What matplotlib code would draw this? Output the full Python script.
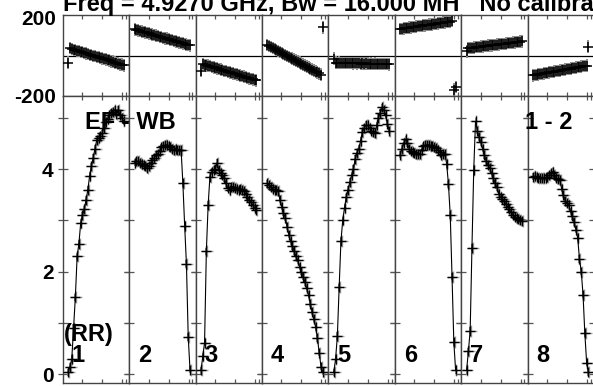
import matplotlib
matplotlib.use("Agg")
import matplotlib.pyplot as plt
from matplotlib.ticker import FixedLocator, FixedFormatter, NullFormatter

# ---------------- data ----------------
CHANNELS = list(range(1, 33))
IF_LABELS = ["1", "2", "3", "4", "5", "6", "7", "8"]

AMP_IF1 = [0.04, 0.15, 0.30, 0.90, 1.50, 2.30, 2.55, 2.95, 3.10, 3.22, 3.40, 3.60, 3.87, 4.05, 4.22, 4.40,
           4.57, 4.60, 4.65, 4.70, 4.80, 4.92, 4.98, 5.05, 5.10, 5.12, 5.15, 5.08, 5.15, 5.06, 5.00, 4.93]
AMP_IF2 = [4.12, 4.15, 4.15, 4.12, 4.10, 4.08, 4.05, 4.03, 4.05, 4.12, 4.18, 4.22, 4.27, 4.30, 4.36, 4.42,
           4.44, 4.46, 4.47, 4.45, 4.42, 4.39, 4.38, 4.40, 4.37, 4.38, 4.38, 3.73, 2.90, 2.15, 0.73, 0.09]
AMP_IF3 = [0.08, 0.35, 0.62, 2.40, 3.30, 3.85, 3.95, 3.98, 4.00, 4.12, 3.98, 3.92, 3.88, 3.82, 3.72, 3.63,
           3.60, 3.65, 3.66, 3.64, 3.62, 3.60, 3.62, 3.60, 3.58, 3.52, 3.45, 3.40, 3.35, 3.30, 3.25, 3.20]
AMP_IF4 = [3.72, 3.68, 3.65, 3.62, 3.60, 3.60, 3.58, 3.40, 3.27, 3.15, 3.05, 2.88, 2.72, 2.60, 2.50, 2.40,
           2.30, 2.22, 2.10, 2.00, 1.90, 1.80, 1.68, 1.55, 1.38, 1.22, 1.08, 0.92, 0.70, 0.42, 0.15, 0.05]
AMP_IF5 = [0.04, 0.30, 0.75, 1.70, 2.60, 3.00, 3.25, 3.45, 3.60, 3.75, 3.88, 4.00, 4.20, 4.32, 4.40, 4.55,
           4.72, 4.80, 4.86, 4.85, 4.80, 4.75, 4.72, 4.70, 4.85, 5.00, 5.10, 5.20, 5.15, 5.05, 4.88, 4.75]
AMP_IF6 = [4.28, 4.40, 4.50, 4.58, 4.50, 4.40, 4.36, 4.34, 4.32, 4.30, 4.30, 4.30, 4.38, 4.44, 4.46, 4.47,
           4.47, 4.45, 4.44, 4.42, 4.41, 4.38, 4.33, 4.28, 4.30, 4.30, 4.10, 3.70, 3.10, 1.90, 0.63, 0.08]
AMP_IF7 = [0.08, 0.45, 0.85, 2.47, 3.99, 4.93, 4.75, 4.62, 4.52, 4.40, 4.27, 4.15, 4.08, 4.02, 3.92, 3.82,
           3.72, 3.65, 3.52, 3.46, 3.42, 3.38, 3.32, 3.27, 3.22, 3.16, 3.11, 3.07, 3.04, 3.02, 3.00, 2.98]
AMP_IF8 = [3.85, 3.86, 3.85, 3.83, 3.82, 3.82, 3.82, 3.83, 3.85, 3.88, 3.92, 3.95, 3.88, 3.82, 3.80, 3.79,
           3.62, 3.50, 3.38, 3.33, 3.30, 3.18, 3.08, 2.97, 2.82, 2.66, 2.25, 2.00, 1.55, 0.80, 0.23, 0.04]

PHS_IF1 = [-33, 41, 38, 33, 32, 27, 26, 22, 21, 16, 14, 12, 7, 6, 2, 0,
           -4, -5, -10, -11, -15, -17, -21, -22, -27, -28, -33, -34, -38, -42, -43, -47]
PHS_IF2 = [138, 135, 133, 130, 127, 125, 122, 119, 117, 114, 111, 109, 106, 103, 100, 98,
           95, 92, 90, 87, 84, 82, 79, 76, 74, 71, 68, 66, 63, 60, 58, 55]
PHS_IF3 = [-74, -41, -44, -47, -49, -52, -55, -58, -61, -63, -66, -69, -72, -75, -77, -80,
           -83, -86, -89, -91, -94, -97, -100, -103, -105, -108, -111, -114, -117, -119, -122, -125]
PHS_IF4 = [58, 53, 48, 43, 38, 32, 27, 22, 17, 12, 7, 2, -3, -8, -13, -18,
           -23, -28, -33, -38, -43, -48, -54, -59, -64, -69, -74, -79, -84, -89, -95, 148]
PHS_IF5 = [-12, -33, -34, -33, -35, -34, -35, -36, -35, -36, -35, -37, -36, -37, -36, -38,
           -37, -38, -37, -38, -39, -38, -39, -38, -40, -39, -40, -39, -41, -40, -41, -42]
PHS_IF6 = [140, 141, 143, 144, 145, 147, 148, 150, 151, 152, 154, 155, 156, 158, 159, 160,
           162, 163, 164, 166, 167, 169, 170, 171, 173, 174, 175, 177, 178, 180, -172, -158]
PHS_IF7 = [25, 41, 42, 43, 44, 46, 47, 48, 49, 50, 51, 53, 54, 55, 56, 57,
           58, 60, 61, 62, 63, 64, 65, 67, 68, 69, 70, 71, 72, 74, 75, 76]
PHS_IF8 = [-99, -97, -96, -94, -92, -91, -89, -87, -86, -84, -82, -81, -79, -77, -76, -74,
           -72, -71, -69, -67, -66, -64, -62, -61, -59, -57, -56, -54, -52, -51, -49, 49]

AMPS = [AMP_IF1, AMP_IF2, AMP_IF3, AMP_IF4, AMP_IF5, AMP_IF6, AMP_IF7, AMP_IF8]
PHASES = [PHS_IF1, PHS_IF2, PHS_IF3, PHS_IF4, PHS_IF5, PHS_IF6, PHS_IF7, PHS_IF8]

TITLE = "Freq = 4.9270 GHz, Bw = 16.000 MH   No calibration applied"
BASELINE = "EF - WB"
BL_NUM = "1 - 2"
POL = "(RR)"

# ---------------- style ----------------
plt.rcParams['font.family'] = ['Liberation Sans', 'DejaVu Sans']
plt.rcParams['font.weight'] = 'bold'

W, H = 593, 386
fig = plt.figure(figsize=(W / 100, H / 100), dpi=100)

x0 = 62.7 / W
pw = 66.4 / W
ph_top = 1 - 15 / H
ph_bot = 1 - 96 / H
am_bot = 1 - 383 / H

XLIM = (-2.07, 35.07)
XT = [8.8, 20.0, 31.2, 33.3]
SPC = '#444444'
TKC = '#555555'
GRAY = '#8a8a8a'
AMP_ERR = 0.07
PHS_ERR = 32

for k in range(8):
    axp = fig.add_axes([x0 + k * pw, ph_bot, pw, ph_top - ph_bot])
    axa = fig.add_axes([x0 + k * pw, am_bot, pw, ph_bot - am_bot])

    # phase
    axp.axhline(0, color='black', lw=0.9, zorder=1)
    axp.errorbar(CHANNELS, PHASES[k], yerr=PHS_ERR, fmt='none', ecolor=GRAY, elinewidth=1.4, zorder=2)
    axp.plot(CHANNELS, PHASES[k], ls='none', marker='+', ms=7.5, mew=1.1, color='black', zorder=3)
    axp.set_xlim(*XLIM)
    axp.set_ylim(-205, 212)

    # amplitude
    axa.errorbar(CHANNELS, AMPS[k], yerr=AMP_ERR, fmt='none', ecolor=GRAY, elinewidth=1.4, zorder=2)
    axa.plot([c + 0.4 for c in CHANNELS], AMPS[k], ls='none', marker='+', ms=8, mew=1.0,
             color=GRAY, alpha=0.8, zorder=2)
    axa.plot(CHANNELS, AMPS[k], ls='-', lw=0.8, marker='+', ms=7.5, mew=1.0, color='black', zorder=3)
    axa.set_xlim(*XLIM)
    axa.set_ylim(-0.167, 5.423)

    for ax in (axp, axa):
        for s in ax.spines.values():
            s.set_color(SPC)
            s.set_linewidth(1.0)
        ax.xaxis.set_major_locator(FixedLocator(XT))
        ax.xaxis.set_major_formatter(NullFormatter())
        ax.tick_params(axis='x', which='both', direction='in', top=True, bottom=True,
                       length=3, width=0.9, color=TKC)

    axp.yaxis.set_major_locator(FixedLocator([-200, 200]))
    axp.tick_params(axis='y', length=0, labelsize=15, pad=5)
    axa.yaxis.set_major_locator(FixedLocator([0, 1, 2, 3, 4, 5]))
    axa.tick_params(axis='y', direction='inout', left=True, right=True, length=7.2,
                    width=0.9, color=TKC, labelsize=15, pad=3)
    if k == 0:
        axp.yaxis.set_major_formatter(FixedFormatter(["-200", "200"]))
        axa.yaxis.set_major_formatter(FixedFormatter(["0", "", "2", "", "4", ""]))
    else:
        axp.yaxis.set_major_formatter(NullFormatter())
        axa.yaxis.set_major_formatter(NullFormatter())
    for lab in axp.get_yticklabels() + axa.get_yticklabels():
        lab.set_fontweight('bold')

    fig.text((x0 * W + k * 66.4 + 9) / W, 1 - 362.5 / H, IF_LABELS[k],
             fontsize=17, fontweight='bold', ha='left', va='baseline')

fig.text(63 / W, 1 - 10.5 / H, TITLE, fontsize=17, fontweight='bold', ha='left', va='baseline')
fig.text(85 / W, 1 - 129 / H, BASELINE, fontsize=17, fontweight='bold', ha='left', va='baseline')
fig.text(525 / W, 1 - 129.3 / H, BL_NUM, fontsize=17, fontweight='bold', ha='left', va='baseline')
fig.text(63.5 / W, 1 - 341 / H, POL, fontsize=17, fontweight='bold', ha='left', va='baseline')

fig.savefig("out.png", dpi=100)
